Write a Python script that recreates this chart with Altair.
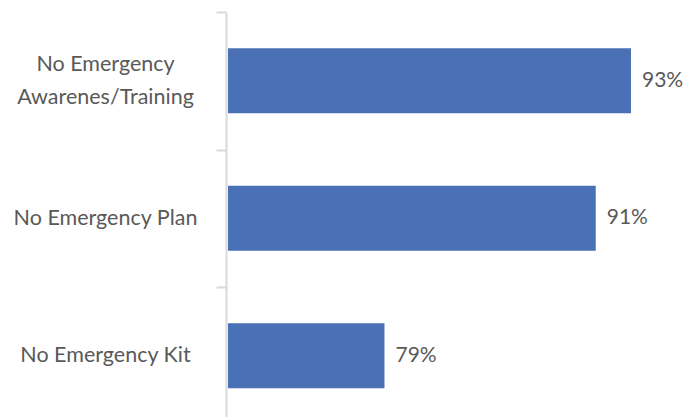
import altair as alt
import pandas as pd

categories = ["No Emergency|Awarenes/Training", "No Emergency Plan", "No Emergency Kit"]
values = [93, 91, 79]
value_labels = ["93%", "91%", "79%"]

df = pd.DataFrame({"cat": categories, "val": values, "lab": value_labels})

x_scale = alt.Scale(domain=[70, 96.75], zero=False, nice=False)
y_scale = alt.Scale(range=[0, 412.5], paddingInner=0, paddingOuter=0)

# two-line labels get a blank middle line, one-line labels a blank first line,
# so that with half line height and a half-line upward offset both are centred
blank = "'\u200b'"
label_expr = (
    "indexof(datum.label, '|') >= 0 ? "
    f"[split(datum.label, '|')[0], {blank}, split(datum.label, '|')[1]] : [{blank}, datum.label]"
)

y_axis = alt.Axis(
    title=None,
    domainColor="#d9d9d9",
    domainWidth=2,
    tickColor="#d9d9d9",
    tickWidth=2,
    tickSize=10,
    tickBand="extent",
    labelAlign="center",
    labelBaseline="middle",
    labelPadding=111,
    labelFont="Lato",
    labelFontSize=21.5,
    labelColor="#595959",
    labelLimit=0,
    labelLineHeight=16.5,
    labelOffset=-16.5,
    labelExpr=label_expr,
)

base = alt.Chart(df)

bars = base.mark_bar(size=65, color="#4A71B6", x2Offset=2).encode(
    y=alt.Y("cat:N", sort=categories, scale=y_scale, axis=y_axis),
    x=alt.X("val:Q", scale=x_scale, axis=None),
    x2=alt.X2(datum=70),
)

text = base.mark_text(align="left", baseline="middle", dx=11, font="Lato", fontSize=21, color="#595959").encode(
    y=alt.Y("cat:N", sort=categories, scale=y_scale, axis=y_axis),
    x=alt.X("val:Q", scale=x_scale, axis=None),
    text="lab:N",
)

chart = (bars + text).properties(
    width=471,
    height=405,
    autosize=alt.AutoSizeParams(type="none"),
    padding={"left": 226, "top": 12, "right": 0, "bottom": 0},
).configure_view(stroke=None)

chart.save("out.html", embed_options={"renderer": "svg", "actions": False})
